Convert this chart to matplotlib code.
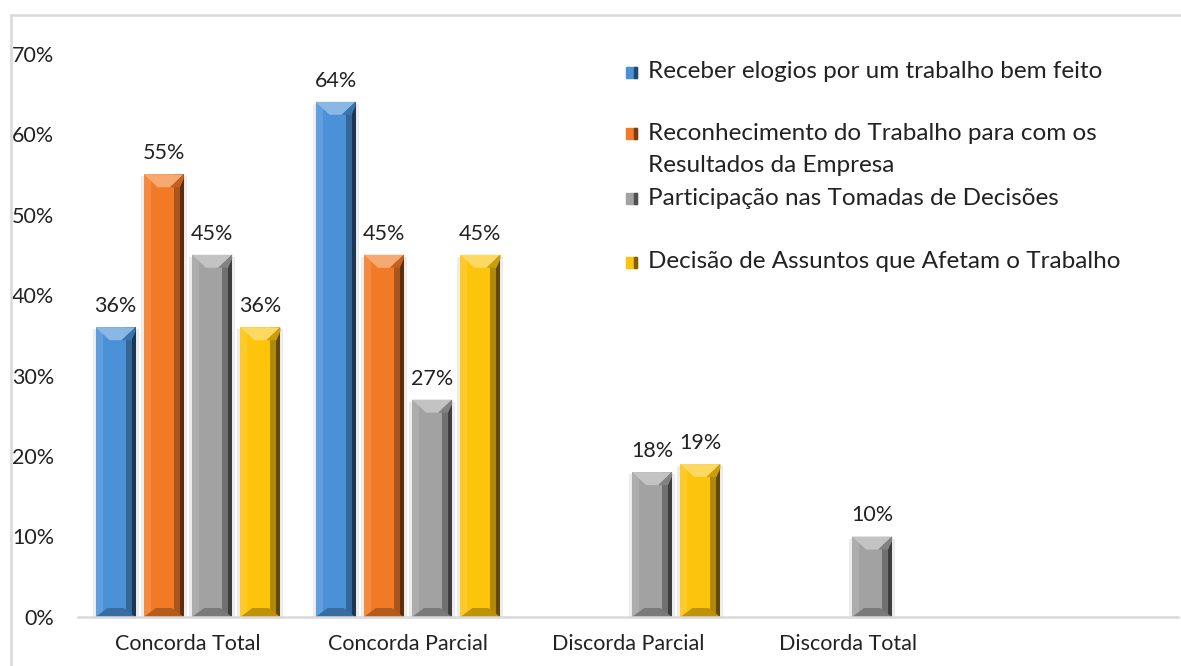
import matplotlib
matplotlib.use("Agg")
import matplotlib.pyplot as plt
import numpy as np
from matplotlib.patches import Polygon, Rectangle
from matplotlib.ticker import PercentFormatter, MultipleLocator
from matplotlib.colors import to_rgb

categories = ["Concorda Total", "Concorda Parcial", "Discorda Parcial", "Discorda Total", ""]
series_names = [
    "Receber elogios por um trabalho bem feito",
    "Reconhecimento do Trabalho para com os\nResultados da Empresa",
    "Participação nas Tomadas de Decisões",
    "Decisão de Assuntos que Afetam o Trabalho",
]
receber = [36, 64, 0, 0, 0]
reconhecimento = [55, 45, 0, 0, 0]
participacao = [45, 27, 18, 10, 0]
decisao = [36, 45, 19, 0, 0]
series_values = [receber, reconhecimento, participacao, decisao]
colors = ["#4a91d8", "#f27a26", "#a2a2a2", "#fdc40c"]

FONT = "Lato"
TXT = "#222222"
W, H = 1181, 666
fig = plt.figure(figsize=(W / 100, H / 100), dpi=100)
ax = fig.add_axes([78 / W, (H - 617) / H, 1100 / W, 563.5 / H])

def mix(c, other, t):
    c = np.array(to_rgb(c)); o = np.array(to_rgb(other))
    return tuple(c * (1 - t) + o * t)

x = np.arange(len(categories))
pitch = 0.2195
bw = 0.182
pxx = 5 / 1100.0   # data units per pixel (x)
pxy = 70 / 563.5   # data units per pixel (y)

for i, (vals, col) in enumerate(zip(series_values, colors)):
    offs = (i - 1.5) * pitch
    bars = ax.bar(x + offs, vals, bw, color=col, zorder=3, linewidth=0)
    for rect, v in zip(bars, vals):
        if v <= 0:
            rect.set_visible(False)
            continue
        x0 = rect.get_x(); w = rect.get_width(); x1 = x0 + w; top = rect.get_height()
        # soft side halo
        ax.add_patch(Rectangle((x0 - 3 * pxx, 0), w + 6 * pxx, top - 2 * pxy,
                               color="#ececec", zorder=2, lw=0))
        # left light strip
        ax.add_patch(Rectangle((x0, 0), 7 * pxx, top, color=mix(col, "white", 0.12), zorder=4, lw=0))
        # right dark strips
        ax.add_patch(Rectangle((x1 - 10 * pxx, 0), 6 * pxx, top, color=mix(col, "black", 0.3), zorder=4, lw=0))
        ax.add_patch(Rectangle((x1 - 4 * pxx, 0), 4 * pxx, top, color=mix(col, "black", 0.62), zorder=4, lw=0))
        # bottom bevel
        ax.add_patch(Polygon([(x0, 0), (x1, 0), (x1 - 12 * pxx, 9 * pxy), (x0 + 12 * pxx, 9 * pxy)],
                             closed=True, color=mix(col, "black", 0.25), zorder=5, lw=0))
        # top bevel
        ax.add_patch(Polygon([(x0, top), (x1, top), (x1 - 14 * pxx, top - 13 * pxy), (x0 + 14 * pxx, top - 13 * pxy)],
                             closed=True, color=mix(col, "white", 0.35), zorder=5, lw=0))
        ax.add_patch(Polygon([(x1, top), (x1 - 14 * pxx, top - 13 * pxy), (x1 - 4 * pxx, top - 13 * pxy), (x1, top - 4 * pxy)],
                             closed=True, color=mix(col, "black", 0.2), zorder=5, lw=0))
        ax.annotate(f"{v}%", (x0 + w / 2, top), xytext=(0, 8), textcoords="offset points",
                    ha="center", va="bottom", fontsize=15.5, family=FONT, color=TXT, zorder=6)

ax.set_xlim(-0.5, len(categories) - 0.5)
ax.set_ylim(0, 70)
ax.yaxis.set_major_locator(MultipleLocator(10))
ax.yaxis.set_major_formatter(PercentFormatter(decimals=0))
ax.set_xticks(x)
ax.set_xticklabels(categories)
for lab in ax.get_xticklabels() + ax.get_yticklabels():
    lab.set_family(FONT); lab.set_fontsize(15.5); lab.set_color(TXT)
ax.tick_params(axis="both", length=0)
ax.tick_params(axis="x", pad=12)
ax.tick_params(axis="y", pad=17)
for s in ["top", "right", "left"]:
    ax.spines[s].set_visible(False)
ax.spines["bottom"].set_color("#d9d9d9")
ax.spines["bottom"].set_linewidth(1.8)
ax.spines["bottom"].set_zorder(7)
ax.patch.set_visible(False)

# outer frame
fig.add_artist(plt.Line2D([11 / W, 11 / W], [0, 1 - 15 / H], color="#d9d9d9", lw=1.8, transform=fig.transFigure))
fig.add_artist(plt.Line2D([11 / W, 1], [1 - 15 / H, 1 - 15 / H], color="#d9d9d9", lw=1.8, transform=fig.transFigure))

# legend
leg_y = [72, 133, 198, 262]
for name, col, yy in zip(series_names, colors, leg_y):
    fig.add_artist(Rectangle((626 / W, 1 - (yy + 6) / H), 11 / W, 11 / H, color=col,
                             transform=fig.transFigure))
    fig.add_artist(Rectangle(((626 + 8) / W, 1 - (yy + 6) / H), 3 / W, 11 / H, color=mix(col, "black", 0.5),
                             transform=fig.transFigure))
    for k, line in enumerate(name.split("\n")):
        fig.text(648 / W, 1 - (yy + 32 * k) / H, line, ha="left", va="center",
                 fontsize=17.5, family=FONT, color=TXT)

fig.savefig("out.png", dpi=100)
